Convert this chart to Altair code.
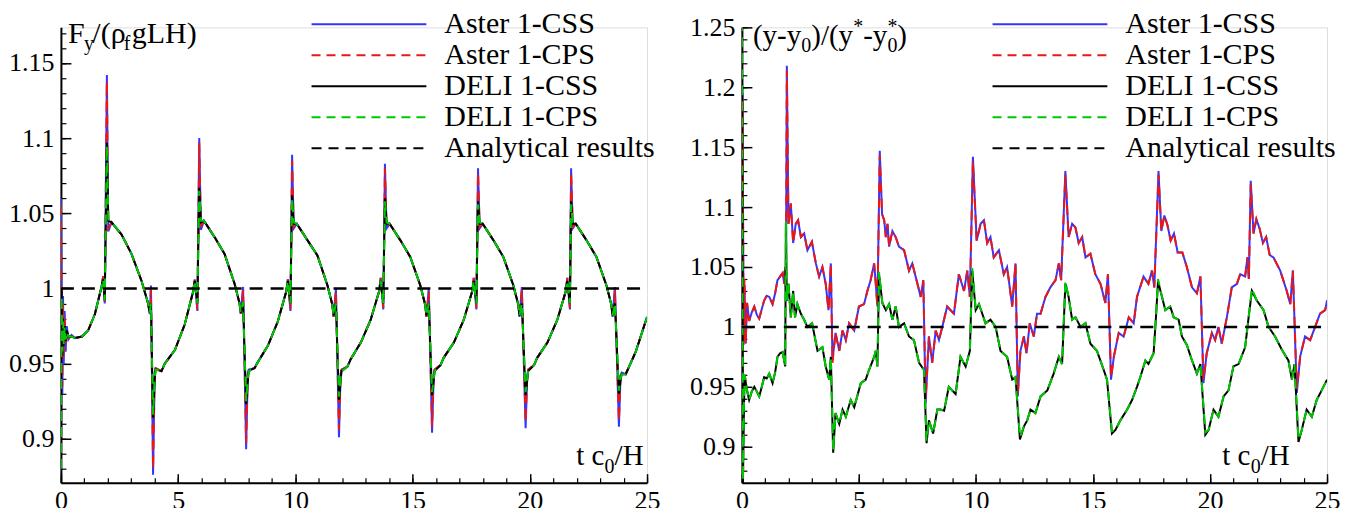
import altair as alt
import pandas as pd

FONT = "Liberation Serif"
W_L, W_R, H = 587, 586, 456

# ---------------- left panel: F_y/(rho_f g L H) ----------------
t_left = [0.00, 0.03, 0.06, 0.09, 0.12, 0.16, 0.20, 0.25, 0.32, 0.45, 0.60, 0.90, 1.16, 1.45, 1.73, 1.80, 1.87, 1.96, 2.02, 2.16, 2.58, 3.01, 3.44, 3.72, 3.79, 3.84, 3.93,
          4.00, 4.04, 4.29, 4.43, 4.86, 5.28, 5.64, 5.71, 5.82, 5.90, 5.97, 6.10, 6.27, 6.56, 6.98, 7.41, 7.62, 7.67, 7.77, 7.90,
          7.97, 8.01, 8.26, 8.40, 8.83, 9.25, 9.61, 9.68, 9.79, 9.86, 9.93, 10.06, 10.23, 10.52, 10.94, 11.37, 11.58, 11.63, 11.73, 11.86,
          11.93, 11.97, 12.22, 12.36, 12.79, 13.21, 13.57, 13.64, 13.75, 13.82, 13.89, 14.02, 14.19, 14.48, 14.90, 15.33, 15.54, 15.59, 15.69, 15.83,
          15.90, 15.94, 16.19, 16.33, 16.76, 17.18, 17.54, 17.61, 17.72, 17.79, 17.86, 17.99, 18.16, 18.45, 18.87, 19.30, 19.51, 19.56, 19.66, 19.82,
          19.89, 19.93, 20.18, 20.32, 20.75, 21.17, 21.53, 21.60, 21.71, 21.76, 21.83, 21.96, 22.13, 22.42, 22.84, 23.27, 23.48, 23.53, 23.63, 23.80,
          23.87, 23.92, 24.09, 24.52, 25.00]
fy_aster_css = [1.060, 0.990, 0.930, 0.995, 0.950, 0.985, 0.958, 0.975, 0.966, 0.969, 0.967, 0.968, 0.972, 0.983, 1.001, 1.008, 0.990, 1.142, 1.038, 1.044, 1.036, 1.023, 1.005, 0.990, 0.983, 1.002, 0.876,
                0.944, 0.947, 0.945, 0.950, 0.959, 0.976, 0.998, 1.006, 0.985, 1.100, 1.039, 1.045, 1.041, 1.034, 1.023, 1.003, 0.990, 0.983, 1.001, 0.893,
                0.943, 0.946, 0.947, 0.951, 0.962, 0.978, 0.998, 1.006, 0.985, 1.089, 1.040, 1.043, 1.039, 1.032, 1.022, 1.002, 0.989, 0.981, 1.000, 0.901,
                0.943, 0.946, 0.948, 0.953, 0.964, 0.979, 0.998, 1.007, 0.986, 1.083, 1.040, 1.043, 1.039, 1.032, 1.021, 1.002, 0.989, 0.981, 1.000, 0.904,
                0.942, 0.946, 0.949, 0.954, 0.964, 0.979, 0.998, 1.007, 0.986, 1.080, 1.040, 1.043, 1.039, 1.032, 1.021, 1.002, 0.989, 0.981, 1.001, 0.907,
                0.942, 0.946, 0.949, 0.954, 0.964, 0.979, 0.998, 1.007, 0.986, 1.080, 1.040, 1.043, 1.039, 1.032, 1.021, 1.002, 0.989, 0.981, 1.001, 0.908,
                0.942, 0.944, 0.943, 0.958, 0.981]
fy_aster_cps = [1.055, 0.995, 0.935, 0.990, 0.955, 0.980, 0.962, 0.973, 0.967, 0.969, 0.967, 0.968, 0.972, 0.983, 1.001, 1.008, 0.991, 1.138, 1.040, 1.044, 1.036, 1.023, 1.005, 0.990, 0.983, 1.000, 0.880,
                0.945, 0.947, 0.945, 0.950, 0.959, 0.976, 0.998, 1.006, 0.986, 1.097, 1.041, 1.045, 1.041, 1.034, 1.023, 1.003, 0.990, 0.983, 0.999, 0.897,
                0.944, 0.946, 0.947, 0.951, 0.962, 0.978, 0.998, 1.006, 0.986, 1.085, 1.041, 1.043, 1.039, 1.032, 1.022, 1.002, 0.989, 0.981, 0.998, 0.906,
                0.944, 0.946, 0.948, 0.953, 0.964, 0.979, 0.998, 1.007, 0.987, 1.080, 1.041, 1.043, 1.039, 1.032, 1.021, 1.002, 0.989, 0.981, 0.998, 0.908,
                0.943, 0.946, 0.949, 0.954, 0.964, 0.979, 0.998, 1.007, 0.987, 1.077, 1.041, 1.043, 1.039, 1.032, 1.021, 1.002, 0.989, 0.981, 0.999, 0.911,
                0.943, 0.946, 0.949, 0.954, 0.964, 0.979, 0.998, 1.007, 0.987, 1.077, 1.041, 1.043, 1.039, 1.032, 1.021, 1.002, 0.989, 0.981, 0.999, 0.912,
                0.943, 0.944, 0.943, 0.958, 0.981]
fy_deli_css = [0.870, 1.000, 0.955, 0.980, 0.962, 0.975, 0.965, 0.972, 0.968, 0.968, 0.967, 0.968, 0.972, 0.983, 1.001, 1.006, 0.992, 1.097, 1.045, 1.044, 1.036, 1.023, 1.005, 0.990, 0.984, 0.990, 0.914,
               0.940, 0.946, 0.945, 0.950, 0.959, 0.976, 0.998, 1.005, 0.990, 1.067, 1.044, 1.045, 1.041, 1.034, 1.023, 1.003, 0.990, 0.984, 0.991, 0.923,
               0.938, 0.945, 0.947, 0.951, 0.962, 0.978, 0.998, 1.005, 0.990, 1.062, 1.043, 1.043, 1.039, 1.032, 1.022, 1.002, 0.989, 0.982, 0.990, 0.926,
               0.939, 0.945, 0.948, 0.953, 0.964, 0.979, 0.998, 1.005, 0.990, 1.060, 1.043, 1.043, 1.039, 1.032, 1.021, 1.002, 0.989, 0.982, 0.990, 0.929,
               0.939, 0.945, 0.949, 0.954, 0.964, 0.979, 0.998, 1.005, 0.990, 1.058, 1.043, 1.043, 1.039, 1.032, 1.021, 1.002, 0.989, 0.982, 0.990, 0.929,
               0.939, 0.945, 0.949, 0.954, 0.964, 0.979, 0.998, 1.005, 0.990, 1.058, 1.043, 1.043, 1.039, 1.032, 1.021, 1.002, 0.989, 0.982, 0.990, 0.930,
               0.939, 0.943, 0.943, 0.958, 0.981]
fy_deli_cps = [0.880, 0.995, 0.958, 0.978, 0.963, 0.974, 0.966, 0.971, 0.968, 0.968, 0.967, 0.968, 0.972, 0.983, 1.001, 1.006, 0.992, 1.095, 1.046, 1.044, 1.036, 1.023, 1.005, 0.990, 0.984, 0.990, 0.916,
               0.941, 0.946, 0.945, 0.950, 0.959, 0.976, 0.998, 1.005, 0.990, 1.065, 1.045, 1.045, 1.041, 1.034, 1.023, 1.003, 0.990, 0.984, 0.991, 0.925,
               0.939, 0.945, 0.947, 0.951, 0.962, 0.978, 0.998, 1.005, 0.990, 1.060, 1.044, 1.043, 1.039, 1.032, 1.022, 1.002, 0.989, 0.982, 0.990, 0.928,
               0.940, 0.945, 0.948, 0.953, 0.964, 0.979, 0.998, 1.005, 0.990, 1.058, 1.044, 1.043, 1.039, 1.032, 1.021, 1.002, 0.989, 0.982, 0.990, 0.931,
               0.940, 0.945, 0.949, 0.954, 0.964, 0.979, 0.998, 1.005, 0.990, 1.056, 1.044, 1.043, 1.039, 1.032, 1.021, 1.002, 0.989, 0.982, 0.990, 0.931,
               0.940, 0.945, 0.949, 0.954, 0.964, 0.979, 0.998, 1.005, 0.990, 1.056, 1.044, 1.043, 1.039, 1.032, 1.021, 1.002, 0.989, 0.982, 0.990, 0.932,
               0.940, 0.943, 0.943, 0.958, 0.981]

# ---------------- right panel: (y-y0)/(y*-y0*) ----------------
t_right_aster = [0.00, 0.03, 0.07, 0.11, 0.16, 0.22, 0.31, 0.42, 0.53, 0.64,
                 0.74, 0.85, 0.95, 1.06, 1.17, 1.31, 1.42, 1.52, 1.63, 1.74,
                 1.81, 1.85, 1.88, 1.92, 1.99, 2.09, 2.19, 2.30, 2.40, 2.52,
                 2.66, 2.80, 2.99, 3.16, 3.30, 3.44, 3.58, 3.70, 3.80, 3.87,
                 4.00, 4.16, 4.30, 4.44, 4.58, 4.80, 5.00, 5.22, 5.36, 5.50,
                 5.65, 5.72, 5.79, 5.89, 5.99, 6.08, 6.15, 6.22, 6.29, 6.43,
                 6.57, 6.71, 6.93, 7.14, 7.28, 7.50, 7.64, 7.75, 7.85, 7.99,
                 8.13, 8.28, 8.42, 8.56, 8.77, 9.06, 9.27, 9.49, 9.63, 9.74,
                 9.87, 10.03, 10.20, 10.34, 10.48, 10.62, 10.76, 10.98, 11.19, 11.33,
                 11.55, 11.69, 11.79, 11.90, 12.05, 12.16, 12.30, 12.47, 12.61, 12.76,
                 12.97, 13.18, 13.40, 13.54, 13.64, 13.82, 13.96, 14.11, 14.25, 14.39,
                 14.54, 14.68, 14.89, 15.10, 15.32, 15.53, 15.64, 15.77, 15.89, 16.10,
                 16.31, 16.53, 16.74, 16.88, 17.16, 17.37, 17.52, 17.62, 17.80, 17.92,
                 18.05, 18.18, 18.32, 18.46, 18.62, 18.82, 19.01, 19.23, 19.44, 19.59,
                 19.72, 19.86, 20.08, 20.22, 20.36, 20.50, 20.72, 20.93, 21.15, 21.29,
                 21.50, 21.60, 21.66, 21.74, 21.86, 21.98, 22.12, 22.26, 22.40, 22.55,
                 22.71, 23.00, 23.28, 23.43, 23.54, 23.71, 23.85, 24.06, 24.28, 24.49,
                 24.70, 24.92, 25.00]
yd_aster_css = [0.930, 1.195, 0.990, 1.035, 0.986, 1.020, 1.005, 1.012, 1.017, 1.010,
                1.007, 1.015, 1.022, 1.026, 1.025, 1.019, 1.028, 1.039, 1.042, 1.045,
                1.036, 1.050, 1.030, 1.218, 1.086, 1.103, 1.070, 1.086, 1.089, 1.075,
                1.078, 1.064, 1.071, 1.053, 1.042, 1.050, 1.036, 1.014, 1.053, 0.972,
                0.995, 0.980, 0.997, 0.989, 1.003, 0.997, 1.017, 1.019, 1.030, 1.039,
                1.053, 1.036, 1.017, 1.147, 1.094, 1.089, 1.075, 1.086, 1.067, 1.080,
                1.075, 1.067, 1.064, 1.047, 1.053, 1.036, 1.025, 1.039, 0.936, 0.992,
                0.970, 0.997, 0.989, 1.000, 1.017, 1.011, 1.044, 1.030, 1.047, 1.025,
                1.142, 1.072, 1.086, 1.089, 1.070, 1.075, 1.058, 1.064, 1.044, 1.050,
                1.017, 1.053, 0.942, 0.980, 0.992, 0.978, 1.003, 0.992, 1.011, 1.011,
                1.025, 1.033, 1.039, 1.053, 1.039, 1.130, 1.075, 1.086, 1.083, 1.070,
                1.075, 1.058, 1.061, 1.044, 1.036, 1.020, 1.044, 0.956, 0.975, 0.995,
                0.992, 1.008, 1.003, 1.025, 1.042, 1.036, 1.047, 1.033, 1.130, 1.080,
                1.093, 1.085, 1.072, 1.078, 1.062, 1.062, 1.050, 1.033, 1.028, 1.042,
                0.953, 0.978, 0.995, 0.989, 1.000, 0.986, 1.008, 1.033, 1.036, 1.044,
                1.042, 1.058, 1.040, 1.122, 1.078, 1.090, 1.082, 1.070, 1.075, 1.060,
                1.058, 1.047, 1.030, 1.019, 1.047, 0.945, 0.975, 0.992, 0.989, 1.000,
                1.011, 1.014, 1.022]
yd_aster_cps = [0.935, 1.190, 0.985, 1.040, 0.986, 1.020, 1.005, 1.012, 1.017, 1.010,
                1.007, 1.015, 1.022, 1.026, 1.025, 1.019, 1.028, 1.039, 1.042, 1.045,
                1.036, 1.050, 1.030, 1.214, 1.086, 1.103, 1.070, 1.086, 1.089, 1.075,
                1.078, 1.064, 1.071, 1.053, 1.042, 1.050, 1.036, 1.014, 1.053, 0.970,
                0.995, 0.980, 0.997, 0.989, 1.003, 0.997, 1.017, 1.019, 1.030, 1.039,
                1.053, 1.036, 1.017, 1.143, 1.094, 1.089, 1.075, 1.086, 1.067, 1.080,
                1.075, 1.067, 1.064, 1.047, 1.053, 1.036, 1.025, 1.039, 0.940, 0.992,
                0.970, 0.997, 0.989, 1.000, 1.017, 1.011, 1.044, 1.030, 1.047, 1.025,
                1.138, 1.072, 1.086, 1.089, 1.070, 1.075, 1.058, 1.064, 1.044, 1.050,
                1.017, 1.053, 0.945, 0.980, 0.992, 0.978, 1.003, 0.992, 1.011, 1.011,
                1.025, 1.033, 1.039, 1.053, 1.039, 1.127, 1.075, 1.086, 1.083, 1.070,
                1.075, 1.058, 1.061, 1.044, 1.036, 1.020, 1.044, 0.958, 0.975, 0.995,
                0.992, 1.008, 1.003, 1.025, 1.042, 1.036, 1.047, 1.033, 1.127, 1.080,
                1.093, 1.085, 1.072, 1.078, 1.062, 1.062, 1.050, 1.033, 1.028, 1.042,
                0.956, 0.978, 0.995, 0.989, 1.000, 0.986, 1.008, 1.033, 1.036, 1.044,
                1.042, 1.058, 1.040, 1.119, 1.078, 1.090, 1.082, 1.070, 1.075, 1.060,
                1.058, 1.047, 1.030, 1.019, 1.047, 0.948, 0.975, 0.992, 0.989, 1.000,
                1.011, 1.014, 1.022]
t_right_deli = [0.00, 0.02, 0.045, 0.09, 0.12, 0.17, 0.24, 0.31, 0.42, 0.53,
                0.64, 0.74, 0.85, 0.95, 1.06, 1.17, 1.31, 1.42, 1.52, 1.63,
                1.74, 1.85, 1.88, 1.92, 1.99, 2.09, 2.19, 2.27, 2.37, 2.52,
                2.66, 2.80, 3.00, 3.23, 3.44, 3.58, 3.73, 3.80, 3.90, 4.00,
                4.16, 4.30, 4.44, 4.65, 4.80, 5.08, 5.29, 5.43, 5.65, 5.72,
                5.79, 5.86, 6.00, 6.15, 6.29, 6.43, 6.57, 6.71, 6.93, 7.14,
                7.35, 7.57, 7.78, 7.89, 7.99, 8.17, 8.35, 8.49, 8.64, 8.84,
                9.13, 9.34, 9.56, 9.74, 9.84, 9.99, 10.13, 10.27, 10.41, 10.62,
                10.84, 11.05, 11.33, 11.55, 11.69, 11.88, 12.05, 12.19, 12.33, 12.54,
                12.76, 13.05, 13.32, 13.54, 13.68, 13.82, 13.96, 14.11, 14.25, 14.47,
                14.68, 14.89, 15.17, 15.46, 15.60, 15.81, 15.96, 16.17, 16.46, 16.67,
                16.88, 17.02, 17.24, 17.37, 17.59, 17.69, 17.78, 17.95, 18.09, 18.30,
                18.45, 18.66, 18.80, 19.01, 19.23, 19.44, 19.59, 19.80, 19.94, 20.15,
                20.36, 20.58, 20.79, 21.00, 21.22, 21.50, 21.65, 21.79, 22.00, 22.29,
                22.50, 22.78, 23.07, 23.35, 23.50, 23.61, 23.78, 23.92, 24.13, 24.35,
                24.56, 24.77, 25.00]
yd_deli_css = [1.260, 1.100, 0.870, 0.935, 0.960, 0.953, 0.945, 0.939, 0.946, 0.950,
               0.946, 0.942, 0.950, 0.958, 0.957, 0.961, 0.953, 0.962, 0.975, 0.978,
               0.979, 0.967, 1.086, 1.022, 1.036, 1.008, 1.030, 1.008, 1.019, 1.011,
               1.006, 1.000, 1.003, 0.980, 0.983, 0.967, 0.956, 0.975, 0.895, 0.928,
               0.919, 0.931, 0.925, 0.939, 0.933, 0.953, 0.956, 0.964, 0.975, 0.980,
               0.967, 1.044, 1.020, 1.014, 1.019, 1.006, 1.017, 1.000, 1.003, 0.992,
               0.989, 0.970, 0.964, 0.903, 0.922, 0.911, 0.931, 0.931, 0.930, 0.950,
               0.944, 0.975, 0.967, 0.980, 1.047, 1.014, 1.019, 1.011, 1.003, 1.006,
               1.000, 0.980, 0.975, 0.956, 0.958, 0.906, 0.917, 0.922, 0.931, 0.928,
               0.942, 0.947, 0.961, 0.975, 0.969, 1.036, 1.025, 1.006, 1.008, 1.000,
               1.003, 0.986, 0.980, 0.964, 0.956, 0.911, 0.914, 0.922, 0.931, 0.939,
               0.950, 0.958, 0.972, 0.969, 0.978, 1.008, 1.038, 1.025, 1.014, 1.017,
               1.008, 1.006, 0.992, 0.985, 0.972, 0.961, 0.969, 0.910, 0.914, 0.931,
               0.925, 0.942, 0.947, 0.967, 0.969, 0.983, 1.008, 1.030, 1.022, 1.014,
               1.000, 0.992, 0.981, 0.972, 0.956, 0.969, 0.904, 0.914, 0.931, 0.925,
               0.939, 0.947, 0.956]
yd_deli_cps = [1.255, 1.080, 0.872, 0.940, 0.960, 0.953, 0.945, 0.939, 0.946, 0.950,
               0.946, 0.942, 0.950, 0.958, 0.957, 0.961, 0.953, 0.962, 0.975, 0.978,
               0.979, 0.967, 1.088, 1.022, 1.036, 1.008, 1.030, 1.008, 1.019, 1.011,
               1.006, 1.000, 1.003, 0.980, 0.983, 0.967, 0.956, 0.975, 0.897, 0.928,
               0.919, 0.931, 0.925, 0.939, 0.933, 0.953, 0.956, 0.964, 0.975, 0.980,
               0.967, 1.046, 1.020, 1.014, 1.019, 1.006, 1.017, 1.000, 1.003, 0.992,
               0.989, 0.970, 0.964, 0.905, 0.922, 0.911, 0.931, 0.931, 0.930, 0.950,
               0.944, 0.975, 0.967, 0.980, 1.049, 1.014, 1.019, 1.011, 1.003, 1.006,
               1.000, 0.980, 0.975, 0.956, 0.958, 0.908, 0.917, 0.922, 0.931, 0.928,
               0.942, 0.947, 0.961, 0.975, 0.969, 1.038, 1.025, 1.006, 1.008, 1.000,
               1.003, 0.986, 0.980, 0.964, 0.956, 0.913, 0.914, 0.922, 0.931, 0.939,
               0.950, 0.958, 0.972, 0.969, 0.978, 1.008, 1.040, 1.025, 1.014, 1.017,
               1.008, 1.006, 0.992, 0.985, 0.972, 0.961, 0.969, 0.912, 0.914, 0.931,
               0.925, 0.942, 0.947, 0.967, 0.969, 0.983, 1.008, 1.032, 1.022, 1.014,
               1.000, 0.992, 0.981, 0.972, 0.956, 0.969, 0.906, 0.914, 0.931, 0.925,
               0.939, 0.947, 0.956]

t_analytical = [0.0, 25.0]
v_analytical = [1.0, 1.0]

series_names = ["Aster 1-CSS", "Aster 1-CPS", "DELI 1-CSS", "DELI 1-CPS", "Analytical results"]
series_colors = ["#3535ff", "#e81818", "#000000", "#00c800", "#000000"]
series_dash = [None, [10, 6], None, [10, 6], [13, 8]]
legend_dash = [None, [9, 6], None, [9, 6], [10, 7]]

x_major = [0, 5, 10, 15, 20, 25]
x_minor = [0, 1, 2, 3, 4, 5, 6, 7, 8, 9, 10, 11, 12, 13, 14, 15, 16, 17, 18, 19, 20, 21, 22, 23, 24, 25]
yl_major = [0.9, 0.95, 1.0, 1.05, 1.1, 1.15]
yl_minor = [0.88, 0.89, 0.90, 0.91, 0.92, 0.93, 0.94, 0.95, 0.96, 0.97, 0.98, 0.99, 1.00, 1.01, 1.02,
            1.03, 1.04, 1.05, 1.06, 1.07, 1.08, 1.09, 1.10, 1.11, 1.12, 1.13, 1.14, 1.15, 1.16, 1.17]
yr_major = [0.9, 0.95, 1.0, 1.05, 1.1, 1.15, 1.2, 1.25]
yr_minor = [0.88, 0.89, 0.90, 0.91, 0.92, 0.93, 0.94, 0.95, 0.96, 0.97, 0.98, 0.99, 1.00, 1.01, 1.02,
            1.03, 1.04, 1.05, 1.06, 1.07, 1.08, 1.09, 1.10, 1.11, 1.12, 1.13, 1.14, 1.15, 1.16, 1.17,
            1.18, 1.19, 1.20, 1.21, 1.22, 1.23, 1.24, 1.25]

left_title = [("F", 7, 16, 30), ("y", 23, 23, 20), ("/(\u03c1", 31.5, 16, 30), ("f", 63, 23, 20), ("gLH)", 71, 16, 30)]
right_title = [("(y-y", 11, 18, 29), ("0", 59.5, 25, 20), (")/(y", 69.5, 18, 29), ("*", 111.5, 6, 20),
               ("-y", 121.5, 18, 29), ("0", 145.7, 25, 20), ("*", 145.7, 6, 20), (")", 155.7, 18, 29)]
left_xtitle = [("t c", 516, 438, 29), ("0", 544.5, 446, 20), ("/H", 554.5, 438, 29)]
right_xtitle = [("t c", 481, 438, 29), ("0", 509.5, 446, 20), ("/H", 519.5, 438, 29)]
legend_rows = [-3, 28, 59, 90, 121]


def one_row():
    return alt.Data(values=[{"k": 0}])


def text_piece(s, x, y, size):
    return alt.Chart(one_row()).mark_text(
        text=s, font=FONT, fontSize=size, align="left", baseline="alphabetic", color="black"
    ).encode(x=alt.value(x), y=alt.value(y))


def panel(curves, ydom, ymaj, ymin, width, title_parts, xtitle_parts):
    xs = alt.Scale(domain=[0, 25], nice=False, zero=False)
    ys = alt.Scale(domain=ydom, nice=False, zero=False)
    layers = []
    for i, (t, v) in enumerate(curves):
        df = pd.DataFrame({"t": t, "v": v})
        if i == 0:
            xa = alt.Axis(orient="bottom", values=x_major, ticks=False, domain=True, domainColor="black",
                          domainWidth=2, labelFont=FONT, labelFontSize=26, labelColor="black",
                          labelPadding=5, grid=False, title=None, labelFlush=False)
            ya = alt.Axis(orient="left", values=ymaj, format="~g", ticks=False, domain=True,
                          domainColor="black", domainWidth=2, labelFont=FONT, labelFontSize=26,
                          labelColor="black", labelPadding=7, grid=False, title=None)
        else:
            xa = None
            ya = None
        mk = dict(color=series_colors[i], strokeWidth=2, clip=True)
        if series_dash[i]:
            mk["strokeDash"] = series_dash[i]
        layers.append(alt.Chart(df).mark_line(**mk).encode(
            x=alt.X("t:Q", scale=xs, axis=xa), y=alt.Y("v:Q", scale=ys, axis=ya)))

    adf = pd.DataFrame({"t": t_analytical, "v": v_analytical})
    # analytical line, carrying the inward major ticks
    layers.append(alt.Chart(adf).mark_line(color=series_colors[4], strokeDash=series_dash[4],
                                           strokeWidth=2.5, clip=True).encode(
        x=alt.X("t:Q", scale=xs, axis=alt.Axis(orient="top", offset=-H, values=x_major, labels=False,
                                               domain=False, tickSize=9, tickWidth=1.5, tickColor="black",
                                               grid=False, title=None)),
        y=alt.Y("v:Q", scale=ys, axis=alt.Axis(orient="right", offset=-width, values=ymaj, labels=False,
                                               domain=False, tickSize=10, tickWidth=1.5, tickColor="black",
                                               grid=False, title=None))))
    # invisible layer carrying the minor ticks
    layers.append(alt.Chart(adf).mark_line(opacity=0).encode(
        x=alt.X("t:Q", scale=xs, axis=alt.Axis(orient="top", offset=-H, values=x_minor, labels=False,
                                               domain=False, tickSize=5, tickWidth=1.2, tickColor="black",
                                               grid=False, title=None)),
        y=alt.Y("v:Q", scale=ys, axis=alt.Axis(orient="right", offset=-width, values=ymin, labels=False,
                                               domain=False, tickSize=5, tickWidth=1.2, tickColor="black",
                                               grid=False, title=None))))
    # legend
    for i, ry in enumerate(legend_rows):
        mk = dict(color=series_colors[i], strokeWidth=2)
        if legend_dash[i]:
            mk["strokeDash"] = legend_dash[i]
        layers.append(alt.Chart(one_row()).mark_rule(**mk).encode(
            x=alt.value(251), x2=alt.value(366), y=alt.value(ry)))
    layers.append(alt.Chart(one_row()).mark_text(
        text=series_names, font=FONT, fontSize=30, align="left", baseline="alphabetic",
        lineHeight=31, color="black").encode(x=alt.value(384), y=alt.value(legend_rows[0] + 8.5)))
    for s, x, y, size in title_parts + xtitle_parts:
        layers.append(text_piece(s, x, y, size))
    return alt.layer(*layers).resolve_axis(x="independent", y="independent").properties(
        width=width, height=H)


left = panel([(t_left, fy_aster_css), (t_left, fy_aster_cps), (t_left, fy_deli_css), (t_left, fy_deli_cps)],
             [0.8708, 1.1737], yl_major, yl_minor, W_L, left_title, left_xtitle)
right = panel([(t_right_aster, yd_aster_css), (t_right_aster, yd_aster_cps),
               (t_right_deli, yd_deli_css), (t_right_deli, yd_deli_cps)],
              [0.87, 1.25], yr_major, yr_minor, W_R, right_title, right_xtitle)

chart = alt.hconcat(left, right, spacing=28).properties(
    padding={"left": 0, "top": 0, "right": 5, "bottom": 0}
).configure_view(stroke=None).configure(background="white")

chart.save("out.html", embed_options={"renderer": "svg", "actions": False})
